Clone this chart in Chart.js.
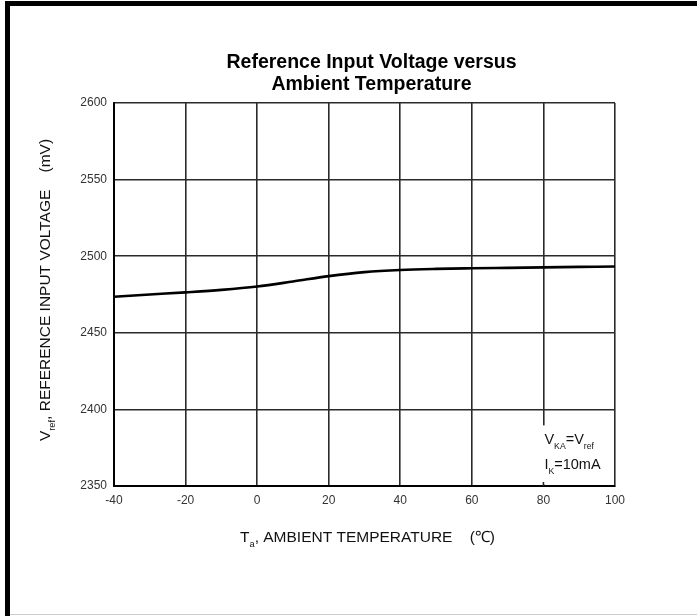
<!DOCTYPE html>
<html>
<head>
<meta charset="utf-8">
<script src="https://cdn.jsdelivr.net/npm/chart.js@4"></script>
<style>
  html,body{margin:0;padding:0;background:#fff;}
  #wrap{position:relative;width:697px;height:616px;overflow:hidden;}
  canvas{position:absolute;left:0;top:0;}
  .bar{position:absolute;background:#000;pointer-events:none;}
</style>
</head>
<body>
<div id="wrap">
  <canvas id="c" width="697" height="616"></canvas>
  <div class="bar" style="left:5px;top:1px;width:692px;height:5px;"></div>
  <div class="bar" style="left:5px;top:1px;width:5px;height:615px;"></div>
  <div class="bar" style="left:10px;top:614px;width:687px;height:1px;background:#ccc;"></div>
</div>
<script>
// ---- data ----
const temperatures = [-40, -30, -20, -10, 0, 10, 20, 30, 40, 50, 60, 70, 80, 90, 100];
const vrefValues   = [2473.5, 2475.0, 2476.4, 2478.0, 2480.2, 2483.5, 2487.0, 2489.6, 2491.0, 2491.7, 2492.1, 2492.4, 2492.7, 2493.0, 2493.3];
const xTickValues  = [-40, -20, 0, 20, 40, 60, 80, 100];
const yTickValues  = [2350, 2400, 2450, 2500, 2550, 2600];
const titleLines   = ['Reference Input Voltage versus', 'Ambient Temperature'];
const xTitleParts  = [{t:'T'},{t:'a',sub:true},{t:', AMBIENT TEMPERATURE    (\u2103)'}];
const yTitleParts  = [{t:'V'},{t:'ref',sub:true},{t:', REFERENCE INPUT VOLTAGE    (mV)'}];
const noteLine1    = [{t:'V'},{t:'KA',sub:true},{t:'=V'},{t:'ref',sub:true}];
const noteLine2    = [{t:'I'},{t:'K',sub:true},{t:'=10mA'}];

const FONT = '"Liberation Sans", Arial, Helvetica, sans-serif';

function richWidth(ctx, parts, size){
  let w = 0;
  for (const p of parts){
    ctx.font = (p.sub ? size*0.6 : size) + 'px ' + FONT;
    w += ctx.measureText(p.t).width;
  }
  return w;
}
function drawRich(ctx, parts, x, y, size, align){
  const w = richWidth(ctx, parts, size);
  let cx = align === 'center' ? x - w/2 : x;
  ctx.textBaseline = 'alphabetic';
  ctx.textAlign = 'left';
  for (const p of parts){
    ctx.font = (p.sub ? size*0.6 : size) + 'px ' + FONT;
    ctx.fillText(p.t, cx, p.sub ? y + size*0.3 : y);
    cx += ctx.measureText(p.t).width;
  }
}

const decor = {
  id: 'decor',
  afterDraw(chart){
    const ctx = chart.ctx;
    const xs = chart.scales.x, ys = chart.scales.y;
    const area = chart.chartArea;
    ctx.save();
    // title
    ctx.fillStyle = '#000';
    ctx.textAlign = 'center';
    ctx.textBaseline = 'alphabetic';
    ctx.font = 'bold 19.5px ' + FONT;
    const cxT = (area.left + area.right)/2 + 7;
    ctx.fillText(titleLines[0], cxT, 68);
    ctx.fillText(titleLines[1], cxT, 90);
    // annotation box
    const bx = xs.getPixelForValue(80) - 9;
    const by = ys.getPixelForValue(2400) + 16;
    ctx.fillStyle = '#fff';
    ctx.fillRect(bx, by, area.right - 1 - bx, area.bottom - 1.5 - by);
    ctx.strokeStyle = '#222';
    ctx.lineWidth = 1.5;
    const tx = xs.getPixelForValue(80);
    ctx.beginPath(); ctx.moveTo(tx, area.bottom); ctx.lineTo(tx, area.bottom - 4); ctx.stroke();
    ctx.fillStyle = '#111';
    drawRich(ctx, noteLine1, bx + 10, by + 19, 14.5, 'left');
    drawRich(ctx, noteLine2, bx + 10, by + 44, 14.5, 'left');
    // x axis title
    drawRich(ctx, xTitleParts, (area.left + area.right)/2 + 3, 542, 15.5, 'center');
    // y axis title
    ctx.translate(50, 290);
    ctx.rotate(-Math.PI/2);
    drawRich(ctx, yTitleParts, 0, 0, 15.5, 'center');
    ctx.restore();
  }
};

new Chart(document.getElementById('c'), {
  type: 'line',
  data: {
    datasets: [{
      data: temperatures.map((t, i) => ({x: t, y: vrefValues[i]})),
      borderColor: '#000',
      borderWidth: 2.6,
      pointRadius: 0,
      cubicInterpolationMode: 'monotone',
      fill: false
    }]
  },
  options: {
    responsive: false,
    animation: false,
    layout: { padding: { left: 0, top: 103, right: 82, bottom: 0 } },
    plugins: { legend: { display: false }, title: { display: false }, tooltip: { enabled: false } },
    scales: {
      x: {
        type: 'linear', min: -40, max: 100,
        afterBuildTicks(s){ s.ticks = xTickValues.map(v => ({value: v})); },
        afterFit(s){ s.height = 130; },
        grid: { color: '#2a2a2a', lineWidth: 1.6, drawTicks: false },
        border: { display: true, color: '#000', width: 2 },
        ticks: { color: '#333', padding: 7, maxRotation: 0, font: { family: FONT, size: 12 },
                 callback: v => String(v) }
      },
      y: {
        type: 'linear', min: 2350, max: 2600,
        afterBuildTicks(s){ s.ticks = yTickValues.map(v => ({value: v})); },
        afterFit(s){ s.width = 114; },
        grid: { color: '#2a2a2a', lineWidth: 1.6, drawTicks: false },
        border: { display: true, color: '#000', width: 2 },
        ticks: { color: '#333', padding: 7, font: { family: FONT, size: 12 },
                 callback: v => String(v) }
      }
    }
  },
  plugins: [decor]
});
</script>
</body>
</html>
